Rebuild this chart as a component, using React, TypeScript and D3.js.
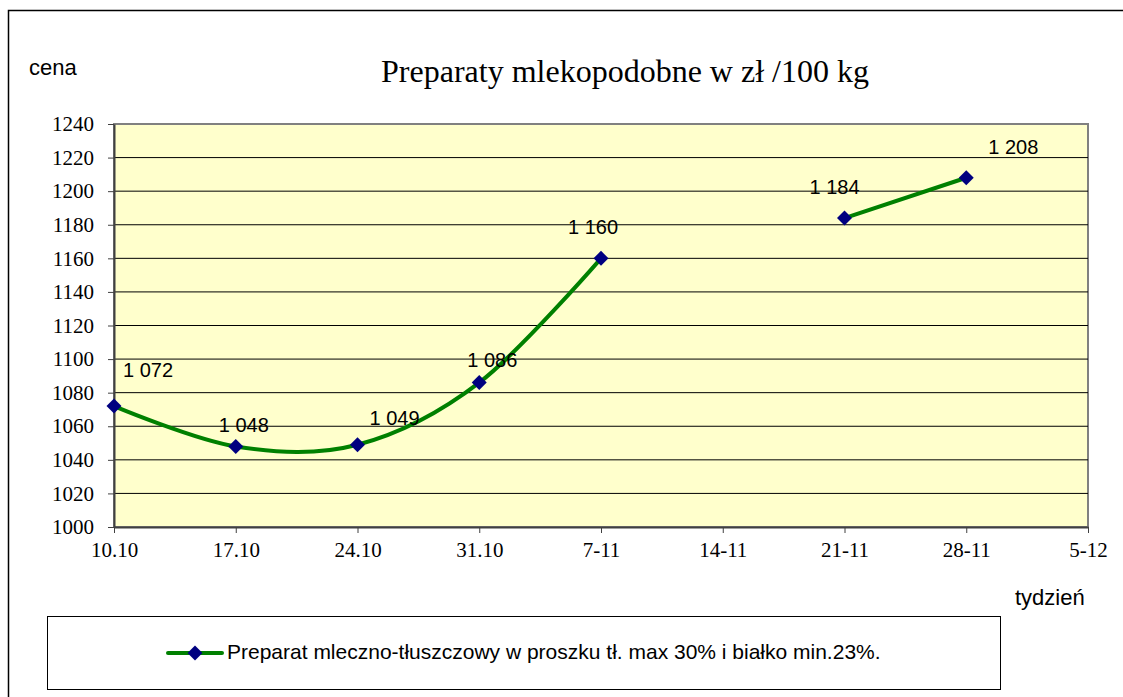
import React, { useEffect, useRef } from "react";
import * as d3 from "d3";

// weekly data
const weeks = ["10.10", "17.10", "24.10", "31.10", "7-11", "14-11", "21-11", "28-11", "5-12"];
const prices: (number | null)[] = [1072, 1048, 1049, 1086, 1160, null, 1184, 1208, null];
const yTicks = [1000, 1020, 1040, 1060, 1080, 1100, 1120, 1140, 1160, 1180, 1200, 1220, 1240];
// label nudges (Excel labels were dragged by hand)
const labelDx = [34, 8, 37, 13, -8, 0, -10, 47, 0];
const labelDy = [-29, -14, -20, -16, -24, 0, -24, -24, 0];

const seriesName = "Preparat mleczno-tłuszczowy w proszku tł. max 30% i białko min.23%.";
const title = "Preparaty mlekopodobne w zł /100 kg";

const serif = "'Liberation Serif', 'Times New Roman', serif";
const sans = "'Liberation Sans', Arial, sans-serif";

export default function App() {
  const ref = useRef<SVGSVGElement>(null);

  useEffect(() => {
    const svg = d3.select(ref.current);
    svg.selectAll("*").remove();

    const left = 114, right = 1088, top = 124, bottom = 527;
    const x = d3.scalePoint<string>().domain(weeks).range([left, right]);
    const y = d3.scaleLinear().domain([1000, 1240]).range([bottom, top]);
    const pl = d3.formatLocale({ decimal: ",", thousands: " ", grouping: [3], currency: ["", " zł"] });
    const fmt = pl.format(",");

    // outer frame
    svg.append("rect").attr("x", 8.5).attr("y", 10.5).attr("width", 1130).attr("height", 700)
      .attr("fill", "#fff").attr("stroke", "#000").attr("stroke-width", 1.5);

    // title + axis names
    svg.append("text").attr("x", 625).attr("y", 82).attr("text-anchor", "middle")
      .style("font-family", serif).style("font-size", "32px").text(title);
    svg.append("text").attr("x", 29).attr("y", 75)
      .style("font-family", sans).style("font-size", "22px").text("cena");
    svg.append("text").attr("x", 1015).attr("y", 605)
      .style("font-family", sans).style("font-size", "22px").text("tydzień");

    // plot area
    svg.append("rect").attr("x", left).attr("y", top).attr("width", right - left).attr("height", bottom - top)
      .attr("fill", "#FFFFCC").attr("stroke", "#808080").attr("stroke-width", 2);

    svg.append("g").selectAll("line")
      .data(yTicks.filter(t => t > 1000 && t < 1240))
      .join("line")
      .attr("x1", left).attr("x2", right)
      .attr("y1", d => y(d)).attr("y2", d => y(d))
      .attr("stroke", "#000").attr("stroke-width", 1);

    // axes
    const yAxis = d3.axisLeft(y).tickValues(yTicks).tickFormat(d => String(d)).tickSize(6).tickSizeOuter(0).tickPadding(14);
    const gy = svg.append("g").attr("transform", `translate(${left},0)`).call(yAxis);
    gy.select(".domain").attr("stroke", "#404040").attr("stroke-width", 2);
    gy.selectAll(".tick line").attr("stroke", "#404040");
    gy.selectAll("text").attr("fill", "#000").style("font-family", serif).style("font-size", "21px");

    const xAxis = d3.axisBottom(x).tickSize(6).tickSizeOuter(0).tickPadding(9);
    const gx = svg.append("g").attr("transform", `translate(0,${bottom})`).call(xAxis);
    gx.select(".domain").attr("stroke", "#404040").attr("stroke-width", 2);
    gx.selectAll(".tick line").attr("stroke", "#404040");
    gx.selectAll("text").attr("fill", "#000").style("font-family", serif).style("font-size", "21px");

    // series
    const pts = weeks.map((w, i) => ({ w, v: prices[i], i }));
    const line = d3.line<{ w: string; v: number | null }>()
      .defined(d => d.v != null)
      .x(d => x(d.w)!)
      .y(d => y(d.v as number))
      .curve(d3.curveCardinal);

    svg.append("path").datum(pts).attr("d", line)
      .attr("fill", "none").attr("stroke", "#008000").attr("stroke-width", 4).attr("stroke-linejoin", "round");

    const diamond = d3.symbol(d3.symbolSquare, 112);
    const valid = pts.filter(d => d.v != null);

    svg.append("g").selectAll("path").data(valid).join("path")
      .attr("d", diamond)
      .attr("transform", d => `translate(${x(d.w)},${y(d.v as number)}) rotate(45)`)
      .attr("fill", "#000080");

    svg.append("g").selectAll("text").data(valid).join("text")
      .attr("x", d => x(d.w)! + labelDx[d.i])
      .attr("y", d => y(d.v as number) + labelDy[d.i])
      .attr("text-anchor", "middle")
      .style("font-family", sans).style("font-size", "20px")
      .text(d => fmt(d.v as number));

    // legend
    const lg = svg.append("g");
    lg.append("rect").attr("x", 47.5).attr("y", 616.5).attr("width", 953).attr("height", 73)
      .attr("fill", "#fff").attr("stroke", "#000").attr("stroke-width", 1);
    lg.append("line").attr("x1", 168).attr("x2", 222).attr("y1", 653).attr("y2", 653)
      .attr("stroke", "#008000").attr("stroke-width", 4).attr("stroke-linecap", "round");
    lg.append("path").attr("d", diamond).attr("transform", "translate(195,653) rotate(45)").attr("fill", "#000080");
    lg.append("text").attr("x", 227).attr("y", 659)
      .style("font-family", sans).style("font-size", "21px").text(seriesName);
  }, []);

  return (
    <svg ref={ref} width={1123} height={697}
      style={{ position: "absolute", left: 0, top: 0, display: "block", background: "#fff" }} />
  );
}
